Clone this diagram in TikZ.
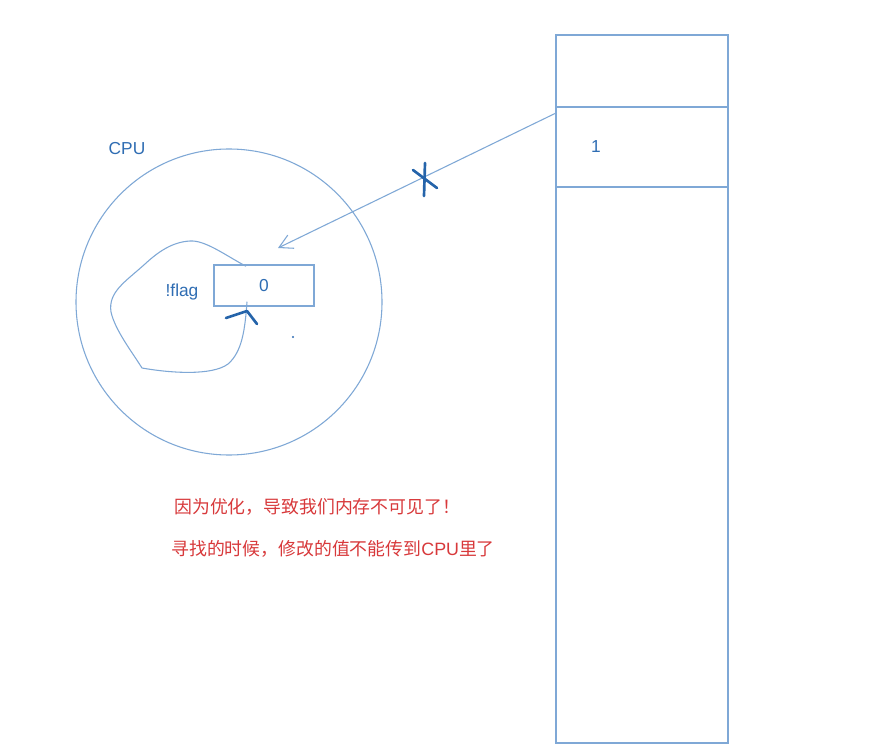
\documentclass[tikz,border=0pt]{standalone}
\usepackage{fontspec}
\setmainfont{Liberation Sans}
\newfontfamily\cjk{Noto Sans CJK SC}
\usetikzlibrary{positioning,arrows.meta}
\definecolor{MemBlue}{HTML}{7FA8D6}
\definecolor{InkBlue}{HTML}{2F6DB3}
\definecolor{PenBlue}{HTML}{2564AA}
\definecolor{NoteRed}{HTML}{D8393B}

\begin{document}
\begin{tikzpicture}[
  x=0.75pt, y=-0.75pt,
  thin line/.style={draw=MemBlue, line width=0.8pt},
  cell/.style={draw=MemBlue, line width=1.1pt, inner sep=0pt},
  lbl/.style={text=InkBlue, font=\fontsize{13pt}{15pt}\selectfont, inner sep=0pt},
  note/.style={text=NoteRed, font=\cjk\fontsize{13.4pt}{15pt}\selectfont, inner sep=0pt, anchor=west},
  pen/.style={draw=PenBlue, line width=2pt, line cap=round, line join=round},
  arrow/.style={-{Straight Barb[length=10pt, width=11pt]}, thin line}
]
\fill[white] (0,0) rectangle (873,755);
\useasboundingbox (0,0) rectangle (873,755);

\node[circle, thin line, minimum size=229.5pt, inner sep=0pt] (cpu) at (229,302) {};
\node[lbl] (cpulbl) at (127,149) {CPU};

\draw[cell] (556,35) rectangle (728,743);
\node[cell, minimum width=129pt, minimum height=60pt] (cell) at (642,147) {};
\node[lbl] (one) at (596,147) {1};

\node[cell, minimum width=75pt, minimum height=30.75pt] (flagbox) at (264,285.5) {};
\node[lbl] (zero) at (264,286) {0};
\node[lbl] (flag) at (182,292) {!flag};

\coordinate (src) at (556,113);
\coordinate (dst) at (278,248);
\draw[arrow] (src) -- (dst);
\coordinate (cross) at (425,179);
\draw[pen] ([shift={(-12,-9)}]cross) -- ([shift={(12,9)}]cross);
\draw[pen] ([shift={(0,-16)}]cross) -- ([shift={(-1,17)}]cross);

\draw[thin line] ([shift={(-18,2)}]flagbox.north)
  .. controls (225,255) and (205,240) .. (190,241)
  .. controls (172,242) and (158,252) .. (145,264)
  .. controls (125,282) and (108,292) .. (111,312)
  .. controls (115,330) and (132,352) .. (142,368)
  .. controls (170,373) and (212,376) .. (228,364)
  .. controls (242,352) and (245,330) .. ([shift={(-17,-5)}]flagbox.south);
\coordinate (tip) at (247,311);
\draw[pen] ([shift={(-21,7)}]tip) -- (tip) -- ([shift={(10,13)}]tip);
\fill[InkBlue] (293,337) circle (1.2);

\node[note] (line1) at (174,507) {因为优化，导致我们内存不可见了！};
\node[note] (line2) at (171,549) {寻找的时候，修改的值不能传到{\fontspec{Liberation Sans}CPU}里了};
\end{tikzpicture}
\end{document}
